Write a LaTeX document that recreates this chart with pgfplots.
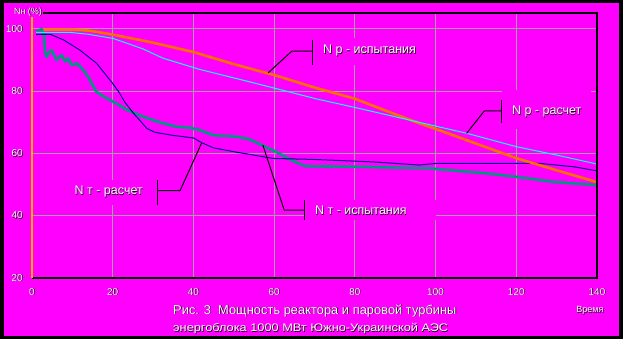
\documentclass[border=0pt]{standalone}
\usepackage{pgfplots}
\pgfplotsset{compat=1.18}
\usepackage{fontspec}
\setmainfont{Liberation Sans}
\definecolor{bg}{RGB}{255,0,255}
\definecolor{gridgray}{RGB}{160,160,160}
\definecolor{orng}{RGB}{255,110,0}
\definecolor{axorng}{RGB}{255,170,0}
\definecolor{cyn}{RGB}{0,255,255}
\definecolor{navy}{RGB}{0,0,150}
\definecolor{teal2}{RGB}{0,150,130}
\newcommand{\sh}[1]{\leavevmode\rlap{\kern0.6pt\raisebox{-0.6pt}{\color{black}#1}}{\color{white}#1}}
\newcommand{\fs}[1]{\fontsize{#1}{#1}\selectfont}
\begin{document}
\begin{tikzpicture}[x=1pt,y=1pt]
\useasboundingbox (0,0) rectangle (623,339);
\fill[black] (0,0) rectangle (623,339);
\fill[bg] (4,3) rectangle (619,336);
\begin{axis}[at={(32pt,61pt)},anchor=south west,scale only axis,
  width=565pt,height=265pt,xmin=0,xmax=140,ymin=20,ymax=105.14,
  axis line style={draw=none},major tick length=0pt,clip=false,
  xtick={0,20,...,140},ytick={20,40,...,100},
  grid=major,grid style={draw=gridgray,line width=1pt},
  xticklabels={\sh{0},\sh{20},\sh{40},\sh{60},\sh{80},\sh{100},\sh{120},\sh{140}},
  yticklabels={\sh{20},\sh{40},\sh{60},\sh{80},\sh{100}},
  xticklabel style={font=\fs{10},inner sep=0pt,anchor=north,yshift=-10pt},
  yticklabel style={font=\fs{10},inner sep=0pt,anchor=east,xshift=-9pt},
]
% label backgrounds
\fill[bg] (axis cs:69.6,88.4) rectangle (axis cs:96.1,97);
\fill[bg] (axis cs:116.4,68) rectangle (axis cs:138.5,80.5);
\fill[bg] (axis cs:9.9,43.4) rectangle (axis cs:31.1,51.4);
\fill[bg] (axis cs:67.5,38.6) rectangle (axis cs:100,45);
% N t - ispytaniya
\addplot[teal2,line width=2.6pt,line join=round] coordinates {
(1,99) (2.4,100) (3,98) (3.2,93) (3.6,91) (4.2,92.5) (4.9,93.2) (5.5,91.5)
(6.1,90) (6.8,91) (7.4,91.6) (8.2,89.5) (9,90.6) (9.8,88.4) (10.5,88.6)
(11.1,89) (12,87.8) (12.7,86.8) (14,84.5) (15.2,81.5) (16,79.8) (17.5,78.5)
(19.3,77.2) (21,76) (23.5,74) (27.6,71.8) (32.5,69.7) (35.8,68.6) (39.1,68.3)
(41.6,67.5) (44.9,65.9) (50.7,65.4) (54,64.5) (56.9,62.7) (60.6,60.5)
(63.9,58.1) (66,56.8) (68,55.9) (82,55.7) (98.6,55.2) (112.7,53.6)
(120,52.5) (129,50.9) (140,49.8)};
% N t - raschet
\addplot[navy,line width=1pt] coordinates {
(1,98.3) (4.5,98.3) (7.8,96.5) (11.9,93.2) (16,89) (19.7,83) (21.4,80)
(23,76.5) (25.1,73) (26.8,70.5) (28.5,68) (30.5,66.8) (35,65.8) (40,65)
(42,63.5) (45,61.8) (50.8,60.4) (59.8,58.4) (69.6,58.1) (84.5,57.3)
(96,56.3) (100,56.8) (126,56.8) (134.5,55.7) (140,54.4)};
% N r - ispytaniya
\addplot[orng,line width=2.6pt] coordinates {
(2.8,99.8) (10,99.8) (14,99.5) (20,98.2) (30,95.6) (40,92.6) (50,88.7)
(60,85.2) (70,81.2) (80,77.6) (90,72.6) (96,69.7) (100,67.9) (110,63.2)
(120,58.5) (130,54.6) (140,50.8)};
% N r - raschet
\addplot[cyn,line width=1pt] coordinates {
(1,98.9) (9.5,98.9) (14,98.3) (20,97) (24,95.2) (27.5,93.6) (32.5,90.6)
(41.6,87) (54,83) (70.6,77.5) (80,74.8) (96,70) (107.7,66.5) (120,62.2)
(130,59.5) (140,56.6)};
% annotation brackets
\draw[black,line width=1pt] (axis cs:58.5,85.9) -- (axis cs:64.4,92.9) -- (axis cs:69.6,92.9);
\draw[black,line width=1pt] (axis cs:69.6,88.4) -- (axis cs:69.6,96.5);
\draw[black,line width=1pt] (axis cs:107.7,66.5) -- (axis cs:112.1,73.7) -- (axis cs:116.4,73.7);
\draw[black,line width=1pt] (axis cs:116.4,69.9) -- (axis cs:116.4,77.2);
\draw[black,line width=1pt] (axis cs:42,63.3) -- (axis cs:36.7,48.1) -- (axis cs:31.1,48.1);
\draw[black,line width=1pt] (axis cs:31.1,43.4) -- (axis cs:31.1,51.4);
\draw[black,line width=1pt] (axis cs:57.2,62.7) -- (axis cs:62.5,41.8) -- (axis cs:67.5,41.8);
\draw[black,line width=1pt] (axis cs:67.5,38.6) -- (axis cs:67.5,45);
\node[anchor=west,inner sep=0pt,font=\fs{12.5}] at (axis cs:72.1,92.9) {\sh{N р - испытания}};
\node[anchor=west,inner sep=0pt,font=\fs{12.5}] at (axis cs:118.9,73.4) {\sh{N р - расчет}};
\node[anchor=east,inner sep=0pt,font=\fs{12.5}] at (axis cs:27.5,47.7) {\sh{N т - расчет}};
\node[anchor=west,inner sep=0pt,font=\fs{12.5}] at (axis cs:70.1,41.6) {\sh{N т - испытания}};
% frame
\draw[black,line width=1.3pt] (rel axis cs:0,0) -- (rel axis cs:1,0) -- (rel axis cs:1,1) -- (rel axis cs:0,1);
\draw[axorng,line width=1.3pt] (rel axis cs:0,0) -- (rel axis cs:0,1);
\end{axis}
\node[fill=bg,inner sep=1pt,font=\fs{9}] at (28,327) {\sh{Nн (\%)}};
\node[anchor=west,inner sep=0pt,font=\fs{12.9}] at (173,28) {\sh{Рис. 3\ \ Мощность реактора и паровой турбины}};
\node[anchor=west,inner sep=0pt,font=\fs{11}] at (173,10) {\scalebox{1.16}[1]{\sh{энергоблока 1000 МВт Южно-Украинской АЭС}}};
\node[inner sep=0pt,font=\fs{9}] at (590,28) {\sh{Время}};
\end{tikzpicture}
\end{document}
